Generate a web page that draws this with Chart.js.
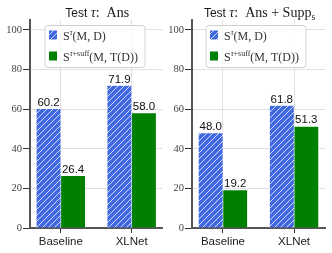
<!DOCTYPE html>
<html><head><meta charset="utf-8">
<script src="https://cdn.jsdelivr.net/npm/chart.js@4.4.1/dist/chart.umd.min.js"></script>
<style>
html,body{margin:0;padding:0;background:#fff;}
#wrap{position:relative;width:332px;height:253px;}
canvas{position:absolute;top:0;}
</style></head>
<body>
<div id="wrap">
<canvas id="c1" width="166" height="253" style="left:0px"></canvas>
<canvas id="c2" width="166" height="253" style="left:166px"></canvas>
</div>
<script>
// ---- data ----
const categories = ["Baseline", "XLNet"];
const yTicks = [0, 20, 40, 60, 80, 100];
const ansFull = [60.2, 71.9];      // S^tau(M,D), Test tau: Ans
const ansSuff = [26.4, 58.0];      // S^{tau+suff}(M,T(D)), Test tau: Ans
const suppFull = [48.0, 61.8];     // S^tau(M,D), Test tau: Ans+Supp_s
const suppSuff = [19.2, 51.3];     // S^{tau+suff}(M,T(D)), Test tau: Ans+Supp_s

const BLUE = '#4169E1', GREEN = '#008000';
const SERIF = '"Liberation Serif", "DejaVu Serif", serif';
const SANS = '"Liberation Sans", "DejaVu Sans", sans-serif';

function hatch() {
  const s = 6;
  const c = document.createElement('canvas');
  c.width = s; c.height = s;
  const g = c.getContext('2d');
  g.fillStyle = BLUE; g.fillRect(0, 0, s, s);
  g.strokeStyle = 'rgba(255,255,255,0.85)'; g.lineWidth = 0.9;
  g.beginPath();
  g.moveTo(-1, s + 1); g.lineTo(s + 1, -1);
  g.moveTo(-1, 1); g.lineTo(1, -1);
  g.moveTo(s - 1, s + 1); g.lineTo(s + 1, s - 1);
  g.stroke();
  return document.getElementById('c1').getContext('2d').createPattern(c, 'repeat');
}
const HATCH = hatch();

function runs(ctx, parts, x, y, measureOnly) {
  let cx = x;
  for (const p of parts) {
    ctx.font = p.font;
    const w = ctx.measureText(p.t).width;
    if (!measureOnly) ctx.fillText(p.t, cx, y + (p.dy || 0));
    cx += w;
  }
  return cx - x;
}

function makeChart(id, full, suff, titleParts, yAxisWidth, padRight, legOff) {
  const titlePlugin = {
    id: 'titles',
    afterDatasetsDraw(chart) {
      const ctx = chart.ctx, ca = chart.chartArea;
      ctx.save();
      ctx.fillStyle = '#111';
      ctx.font = '11.5px ' + SANS;
      ctx.textAlign = 'center'; ctx.textBaseline = 'alphabetic';
      chart.data.datasets.forEach((ds, di) => {
        chart.getDatasetMeta(di).data.forEach((el, i) => {
          ctx.fillText(ds.data[i].y.toFixed(1), el.x, el.y - 3);
        });
      });
      ctx.textAlign = 'left';
      ctx.fillStyle = '#1a1a1a';
      const tw = runs(ctx, titleParts, 0, 0, true);
      runs(ctx, titleParts, (ca.left + ca.right) / 2 - tw / 2 + 1, 16.5);
      const l1 = [
        {t: 'S', font: '12px ' + SERIF},
        {t: 'τ', font: 'italic 8px ' + SERIF, dy: -5},
        {t: '(M, D)', font: '12px ' + SERIF}
      ];
      const l2 = [
        {t: 'S', font: '12px ' + SERIF},
        {t: 'τ', font: 'italic 8px ' + SERIF, dy: -5},
        {t: '+suff', font: '8px ' + SERIF, dy: -5},
        {t: '(M, T(D))', font: '12px ' + SERIF}
      ];
      const w2 = runs(ctx, l2, 0, 0, true);
      const bx = ca.left + legOff, by = 25.5, bw = w2 + 25, bh = 42;
      ctx.fillStyle = 'rgba(255,255,255,0.85)';
      ctx.strokeStyle = '#d0d0d0'; ctx.lineWidth = 1;
      ctx.beginPath();
      ctx.roundRect(bx, by, bw, bh, 3);
      ctx.fill(); ctx.stroke();
      ctx.fillStyle = HATCH; ctx.fillRect(bx + 4, by + 5, 8, 9);
      ctx.fillStyle = GREEN; ctx.fillRect(bx + 4, by + 26, 8, 9);
      ctx.fillStyle = '#333';
      runs(ctx, l1, bx + 18, by + 14.5);
      runs(ctx, l2, bx + 18, by + 35);
      ctx.restore();
    }
  };
  const bw = {left: 0.6, right: 0.6, top: 0.6, bottom: 0};
  return new Chart(document.getElementById(id), {
    type: 'bar',
    data: {
      datasets: [
        {data: full.map((v, i) => ({x: i, y: v})), backgroundColor: HATCH,
         borderColor: '#fff', borderWidth: bw, borderSkipped: false, barThickness: 24.5},
        {data: suff.map((v, i) => ({x: i, y: v})), backgroundColor: GREEN,
         borderColor: '#fff', borderWidth: bw, borderSkipped: false, barThickness: 24.5}
      ]
    },
    options: {
      responsive: false,
      animation: false,
      layout: {padding: {top: 20, right: padRight, left: 0, bottom: 0}},
      plugins: {legend: {display: false}, tooltip: {enabled: false}},
      scales: {
        x: {
          type: 'linear', min: -0.435, max: 1.435, offset: false,
          afterBuildTicks: s => { s.ticks = categories.map((c, i) => ({value: i})); },
          afterFit: s => { s.height = 25; },
          ticks: {callback: v => categories[v], color: '#222', font: {family: SANS, size: 11.5}, padding: 2, maxRotation: 0, autoSkip: false},
          grid: {color: '#e0e0e0', tickColor: '#333', tickLength: 5, lineWidth: 1, offset: false},
          border: {color: '#555', width: 2}
        },
        y: {
          min: 0, max: 105,
          afterBuildTicks: s => { s.ticks = yTicks.map(v => ({value: v})); },
          afterFit: s => { s.width = yAxisWidth; },
          ticks: {color: '#444', font: {family: SERIF, size: 10.5}, padding: 1},
          grid: {color: '#e0e0e0', tickColor: '#333', tickLength: 7, lineWidth: 1},
          border: {color: '#555', width: 2}
        }
      }
    },
    plugins: [titlePlugin]
  });
}

const t1 = [
  {t: 'Test ', font: '12px ' + SANS},
  {t: 'τ', font: 'italic 14px ' + SERIF},
  {t: ':  Ans', font: '14px ' + SERIF}
];
const t2 = [
  {t: 'Test ', font: '12px ' + SANS},
  {t: 'τ', font: 'italic 14px ' + SERIF},
  {t: ':  Ans + Supp', font: '14px ' + SERIF},
  {t: 's', font: '9.5px ' + SERIF, dy: 3}
];
makeChart('c1', ansFull, ansSuff, t1, 30, 3.5, 15);
makeChart('c2', suppFull, suppSuff, t2, 26, 7, 14);
</script>
</body></html>
